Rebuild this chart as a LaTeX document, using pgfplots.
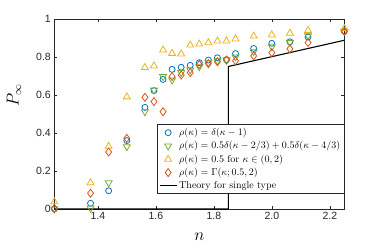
\documentclass[border=0pt]{standalone}
\usepackage{fontspec}
\usepackage{pgfplots}
\pgfplotsset{compat=1.18}
\newfontfamily\tickfont{Liberation Sans}
\definecolor{mblue}{RGB}{0,114,189}
\definecolor{mgreen}{RGB}{119,172,48}
\definecolor{myellow}{RGB}{237,177,32}
\definecolor{mred}{RGB}{217,83,25}
\definecolor{axgray}{RGB}{38,38,38}
\begin{document}
\begin{tikzpicture}
\useasboundingbox (-54.3pt,-39pt) rectangle (319.7pt,209pt);
\begin{axis}[
  scale only axis, width=290pt, height=190pt,
  xmin=1.25, xmax=2.25, ymin=0, ymax=1,
  xtick={1.4,1.6,1.8,2.0,2.2},
  ytick={0,0.2,0.4,0.6,0.8,1},
  xticklabel style={/pgf/number format/fixed, /pgf/number format/fixed zerofill, /pgf/number format/precision=1},
  yticklabel style={/pgf/number format/fixed},
  /pgf/number format/assume math mode=true,
  tick label style={font=\fontsize{10.5}{12}\tickfont, text=axgray},
  tick align=inside, tick style={axgray, line width=0.5pt}, major tick length=3pt,
  axis line style={axgray, line width=0.6pt},
  xlabel={$n$}, ylabel={$P_\infty$},
  label style={font=\fontsize{16}{19}\selectfont},
  xlabel style={at={(axis description cs:0.5,-0.146)}, anchor=center},
  ylabel style={at={(axis description cs:-0.139,0.6)}, anchor=center},
  legend style={at={(0.354,0.447)}, anchor=north west, font=\fontsize{10}{12}\selectfont, draw=axgray, line width=0.6pt, fill=white, inner sep=1.8pt, row sep=0.3pt, cells={anchor=west}},
  legend cell align=left,
  clip=false,
]
\addplot[only marks, mark=o, mark size=3pt, mblue, line width=0.8pt] coordinates {
(1.25,0.0) (1.375,0.03) (1.4375,0.096) (1.5,0.36) (1.5625,0.535) (1.59375,0.623) (1.625,0.682) (1.65625,0.735) (1.6875,0.746) (1.71875,0.756) (1.75,0.77) (1.78125,0.784) (1.8125,0.796) (1.84375,0.786) (1.875,0.818) (1.9375,0.845) (2.0,0.872) (2.0625,0.88) (2.125,0.905) (2.25,0.935)};
\addlegendentry{$\rho(\kappa)=\delta(\kappa-1)$}
\addplot[only marks, mark=triangle, mark size=4pt, mark options={rotate=180}, mgreen, line width=0.8pt] coordinates {
(1.25,0.0) (1.375,0.005) (1.4375,0.138) (1.5,0.328) (1.5625,0.512) (1.59375,0.626) (1.625,0.697) (1.65625,0.679) (1.6875,0.718) (1.71875,0.732) (1.75,0.749) (1.78125,0.77) (1.8125,0.78) (1.84375,0.785) (1.875,0.80) (1.9375,0.828) (2.0,0.854) (2.0625,0.877) (2.125,0.912) (2.25,0.935)};
\addlegendentry{$\rho(\kappa)=0.5\delta(\kappa-2/3)+0.5\delta(\kappa-4/3)$}
\addplot[only marks, mark=triangle, mark size=4pt, myellow, line width=0.8pt] coordinates {
(1.25,0.038) (1.375,0.138) (1.4375,0.33) (1.5,0.59) (1.5625,0.745) (1.59375,0.753) (1.625,0.837) (1.65625,0.819) (1.6875,0.816) (1.71875,0.863) (1.75,0.868) (1.78125,0.875) (1.8125,0.884) (1.84375,0.884) (1.875,0.895) (1.9375,0.91) (2.0,0.916) (2.0625,0.925) (2.125,0.94) (2.25,0.95)};
\addlegendentry{$\rho(\kappa)=0.5$ for $\kappa\in(0,2)$}
\addplot[only marks, mark=diamond, mark size=4pt, mred, line width=0.8pt] coordinates {
(1.25,0.003) (1.375,0.083) (1.4375,0.30) (1.5,0.372) (1.5625,0.588) (1.59375,0.565) (1.625,0.512) (1.65625,0.697) (1.6875,0.705) (1.71875,0.718) (1.75,0.76) (1.78125,0.765) (1.8125,0.775) (1.84375,0.784) (1.875,0.78) (1.9375,0.806) (2.0,0.823) (2.0625,0.843) (2.125,0.876) (2.25,0.935)};
\addlegendentry{$\rho(\kappa)=\Gamma(\kappa;0.5,2)$}
\addplot[black, line width=1.1pt, mark=none] coordinates {
(1.25,0) (1.85,0) (1.85,0.75) (2.25,0.888)};
\addlegendentry{Theory for single type}
\end{axis}
\end{tikzpicture}
\end{document}
